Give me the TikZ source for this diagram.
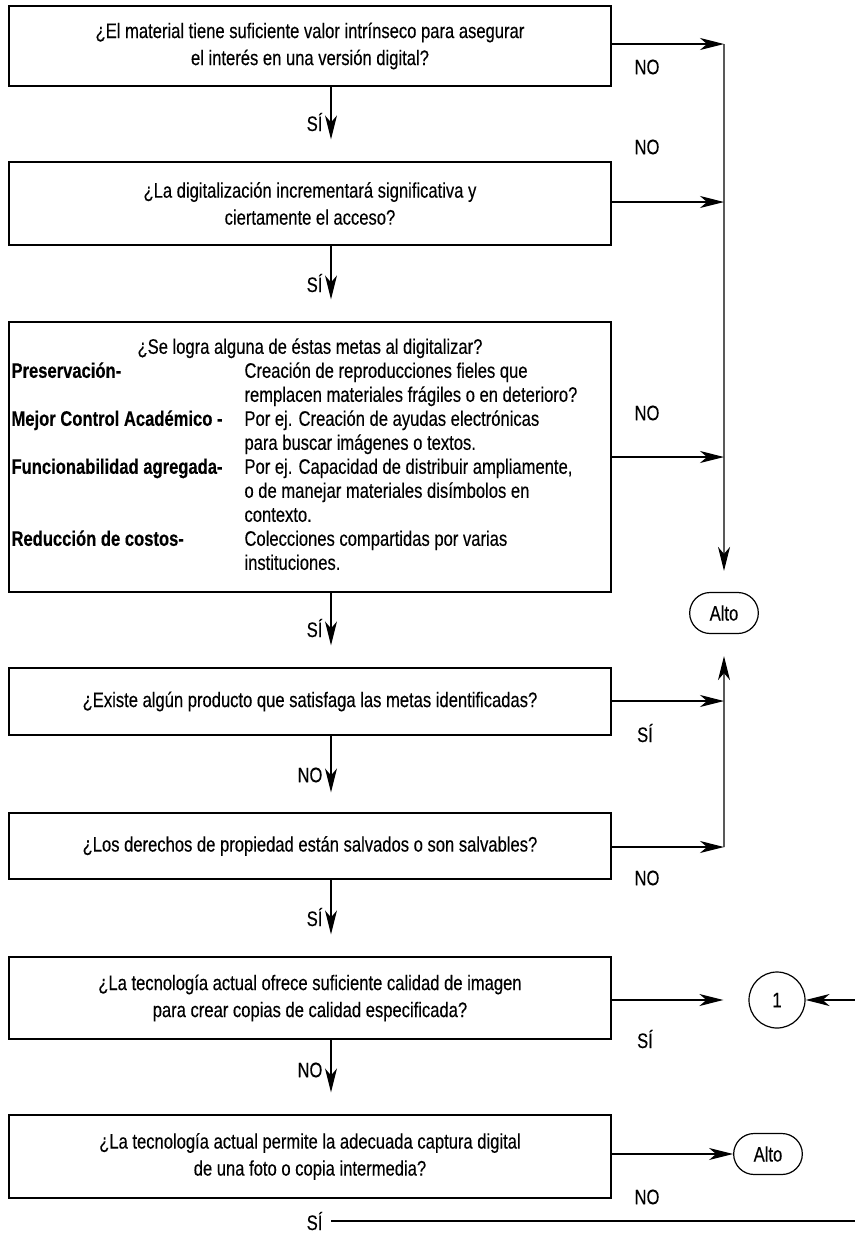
\documentclass[tikz,border=0pt]{standalone}
\usepackage{fontspec}
\setmainfont{Liberation Sans}[FakeStretch=0.79, FakeBold=0.3]
\usetikzlibrary{arrows.meta, shapes.misc, positioning}

\begin{document}
\begin{tikzpicture}[x=0.5pt, y=-0.5pt, line width=0.6pt,
  every node/.style={font=\fontsize{10.5}{13.5}\selectfont},
  qbox/.style={draw, rectangle, minimum width=301pt, align=center},
  altobox/.style={draw, rounded rectangle, minimum width=41pt, minimum height=20.5pt},
  arr/.style={-{Stealth[length=12pt, width=6pt, inset=3.5pt]}},
  lbl/.style={inner sep=0pt},
  dlbl/.style={inner sep=0pt, anchor=east}]
\useasboundingbox (0,0) rectangle (855,1233);

% Nodes
\node[qbox, minimum height=40pt] (q1) at (310,46) {¿El material tiene suficiente valor intrínseco para asegurar\\el interés en una versión digital?};
\node[qbox, minimum height=41.5pt] (q2) at (310,203.5) {¿La digitalización incrementará significativa y\\ciertamente el acceso?};
\node[qbox, minimum height=135pt, inner sep=0pt, font=\fontsize{10.5}{12}\selectfont] (q3) at (310,457) {%
  \begin{tabular}{@{}p{116.5pt}@{}p{182pt}@{}}
  \multicolumn{2}{c}{¿Se logra alguna de éstas metas al digitalizar?}\\
  \textbf{Preservación-} & Creación de reproducciones fieles que\\
  & remplacen materiales frágiles o en deterioro?\\
  \textbf{Mejor Control Académico -} & Por ej. Creación de ayudas electrónicas\\
  & para buscar imágenes o textos.\\
  \textbf{Funcionabilidad agregada-} & Por ej. Capacidad de distribuir ampliamente,\\
  & o de manejar materiales disímbolos en\\
  & contexto.\\
  \textbf{Reducción de costos-} & Colecciones compartidas por varias\\
  & instituciones.
  \end{tabular}};
\node[qbox, minimum height=33.5pt] (q4) at (310,701.5) {¿Existe algún producto que satisfaga las metas identificadas?};
\node[qbox, minimum height=33pt] (q5) at (310,846) {¿Los derechos de propiedad están salvados o son salvables?};
\node[qbox, minimum height=41pt] (q6) at (310,998) {¿La tecnología actual ofrece suficiente calidad de imagen\\para crear copias de calidad especificada?};
\node[qbox, minimum height=41.5pt] (q7) at (310,1156.5) {¿La tecnología actual permite la adecuada captura digital\\de una foto o copia intermedia?};
\node[altobox] (alto1) at (724,613) {Alto};
\node[altobox] (alto2) at (768,1154) {Alto};
\node[draw, circle, minimum size=28pt, inner sep=0pt] (one) at (777,1000) {1};

% Junctions
\coordinate (j1) at (724,44);
\coordinate (j2) at (724,202);
\coordinate (j3) at (724,457);
\coordinate (j4) at (724,701);
\coordinate (j5) at (724,847);
\coordinate (in1) at (855,1000);
\coordinate (tail) at (855,1221);

% Arrows
\draw[arr, shorten >=11pt] ([xshift=10.5pt]q1.south) -- ([xshift=10.5pt]q2.north);
\draw[arr, shorten >=11pt] ([xshift=10.5pt]q2.south) -- ([xshift=10.5pt]q3.north);
\draw[arr, shorten >=11pt] ([xshift=10.5pt]q3.south) -- ([xshift=10.5pt]q4.north);
\draw[arr, shorten >=10pt] ([xshift=10.5pt]q4.south) -- ([xshift=10.5pt]q5.north);
\draw[arr, shorten >=11pt] ([xshift=10.5pt]q5.south) -- ([xshift=10.5pt]q6.north);
\draw[arr, shorten >=11pt] ([xshift=10.5pt]q6.south) -- ([xshift=10.5pt]q7.north);
\draw[arr] (q1.east |- j1) -- (j1);
\draw[arr] (q2.east |- j2) -- (j2);
\draw[arr] (q3.east) -- (j3);
\draw[arr, shorten >=10.5pt] (j1) -- (alto1);
\draw[arr] (q4.east |- j4) -- (j4);
\draw[arr] (q5.east |- j5) -- (j5);
\draw[arr, shorten >=11pt] (j5) -- (alto1);
\draw[arr, shorten >=12.5pt] (q6.east |- one) -- (one);
\draw[arr] (in1) -- (one);
\draw[arr] (q7.east |- alto2) -- (alto2);

% Annotations
\node[dlbl] (si1) at (323,122) {SÍ};
\node[dlbl] (si2) at (323,283) {SÍ};
\node[dlbl] (si3) at (323,628) {SÍ};
\node[dlbl] (no4) at (323,775) {NO};
\node[dlbl] (si5) at (323,917) {SÍ};
\node[dlbl] (no6) at (323,1070) {NO};
\node[dlbl] (si7) at (323,1221) {SÍ};
\node[lbl] (nr1) at (647,67) {NO};
\node[lbl] (nr2) at (647,147) {NO};
\node[lbl] (nr3) at (647,413) {NO};
\node[lbl] (sr4) at (645,733) {SÍ};
\node[lbl] (nr5) at (647,878) {NO};
\node[lbl] (sr6) at (645,1039) {SÍ};
\node[lbl] (nr7) at (647,1197) {NO};
\draw ([xshift=4pt]si7.east) -- (tail);
\end{tikzpicture}
\end{document}
